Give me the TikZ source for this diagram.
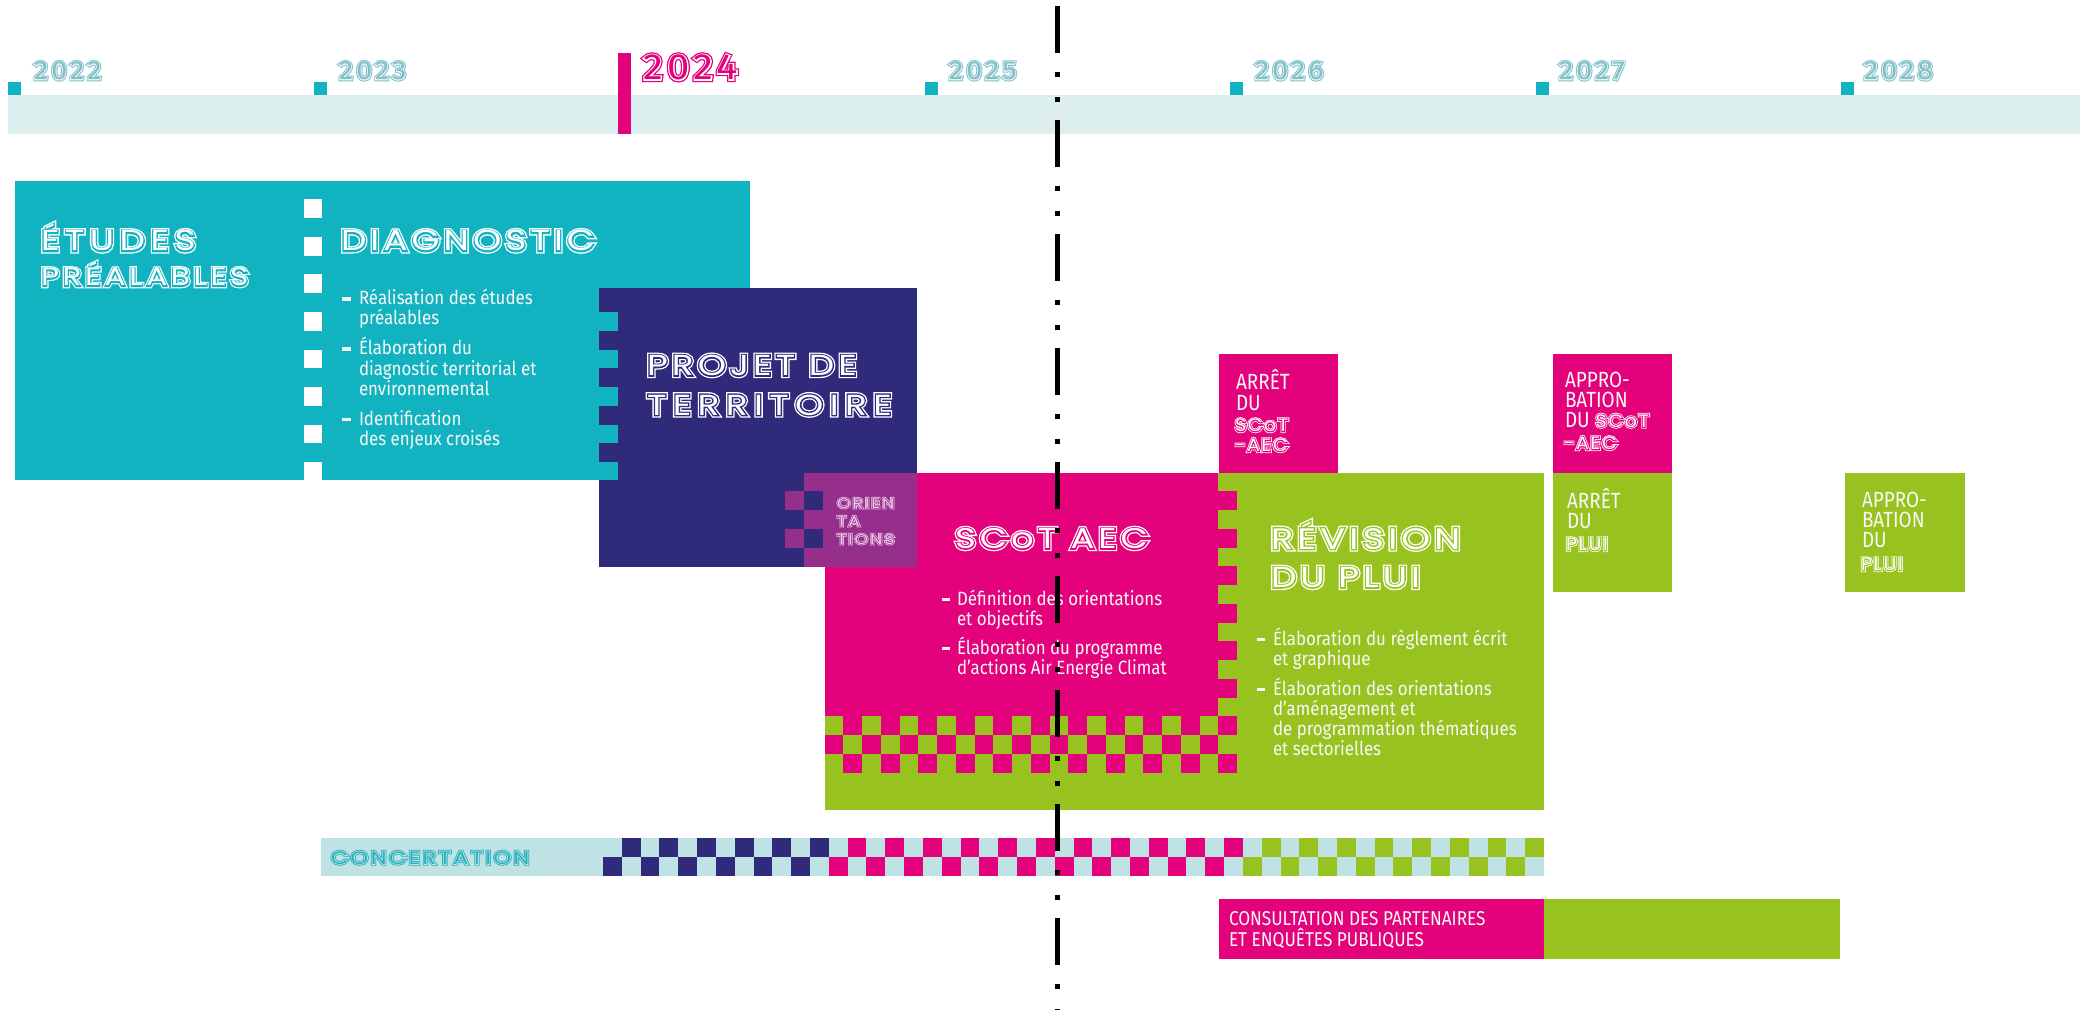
\documentclass[tikz,border=0pt]{standalone}
\usepackage{fontspec}
\setmainfont{Fira Sans}
\newfontfamily\cond{Fira Sans}[FakeStretch=0.88]
\newfontfamily\condb{Fira Sans}[FakeStretch=0.86]
\newfontfamily\dispC{Poppins}[FakeStretch=1.24,LetterSpace=14]
\newfontfamily\dispG{Poppins}[FakeStretch=1.24,LetterSpace=14,FakeBold=9]
\newfontfamily\dispO{Poppins}[FakeStretch=1.24,LetterSpace=14,FakeBold=18]
\newfontfamily\sdispC{Poppins}[FakeStretch=1.06,LetterSpace=9]
\newfontfamily\sdispG{Poppins}[FakeStretch=1.06,LetterSpace=9,FakeBold=9]
\newfontfamily\sdispO{Poppins}[FakeStretch=1.06,LetterSpace=9,FakeBold=18]
\newfontfamily\yrC{Fira Sans}[FakeStretch=1.1,LetterSpace=12]
\newfontfamily\yrG{Fira Sans}[FakeStretch=1.1,LetterSpace=12,FakeBold=7]
\newfontfamily\yrO{Fira Sans}[FakeStretch=1.1,LetterSpace=12,FakeBold=14]
\definecolor{cteal}{HTML}{12B3C1}
\definecolor{cnavy}{HTML}{302A7B}
\definecolor{cpurp}{HTML}{952F8B}
\definecolor{cmag}{HTML}{E3027B}
\definecolor{cgreen}{HTML}{98C21F}
\definecolor{cband}{HTML}{DCEEEE}
\definecolor{cconc}{HTML}{BFE2E4}
\definecolor{cyear}{HTML}{7FC0C8}
\definecolor{cyeargap}{HTML}{E6F3F4}
\definecolor{cconctxt}{HTML}{22B1BD}
\definecolor{corient}{HTML}{EFCDEB}
\definecolor{ctxt}{HTML}{F8F8F8}
% inline (double line) titles: #1 name, #2 position, #3 size, #4 ink, #5 gap colour, #6 text
\newcommand\ttl[6]{%
  \node[lab,text=#4,font=\dispO\fontsize{#3}{#3}\selectfont] (#1o) at #2 {#6};%
  \node[lab,text=#5,font=\dispG\fontsize{#3}{#3}\selectfont] (#1g) at #2 {#6};%
  \node[lab,text=#4,font=\dispC\fontsize{#3}{#3}\selectfont] (#1) at #2 {#6};}
\newcommand\sttl[6]{%
  \node[lab,text=#4,font=\sdispO\fontsize{#3}{#3}\selectfont] (#1o) at #2 {#6};%
  \node[lab,text=#5,font=\sdispG\fontsize{#3}{#3}\selectfont] (#1g) at #2 {#6};%
  \node[lab,text=#4,font=\sdispC\fontsize{#3}{#3}\selectfont] (#1) at #2 {#6};}
\newcommand\yrl[6]{%
  \node[lab,text=#4,font=\yrO\fontsize{#3}{#3}\selectfont] (#1o) at #2 {#6};%
  \node[lab,text=#5,font=\yrG\fontsize{#3}{#3}\selectfont] (#1g) at #2 {#6};%
  \node[lab,text=#4,font=\yrC\fontsize{#3}{#3}\selectfont] (#1) at #2 {#6};}
\begin{document}
\begin{tikzpicture}[x=0.5pt,y=-0.5pt,
  lab/.style={anchor=base west,inner sep=0pt,outer sep=0pt},
  body/.style={lab,text=ctxt,font=\cond\fontsize{9.6pt}{10pt}\selectfont},
  boxtxt/.style={lab,text=ctxt,font=\condb\fontsize{11pt}{11pt}\selectfont},
  constxt/.style={lab,text=ctxt,font=\condb\fontsize{10pt}{10pt}\selectfont},
  bullet/.style={fill=ctxt},
  dashline/.style={line width=2.5pt,dash pattern=on 23.5pt off 9.5pt on 2.5pt off 10pt on 2.5pt off 9pt}]
\useasboundingbox (0,0) rectangle (2080,1010);
\fill[white] (0,0) rectangle (2080,1010);

% ---------- timeline ----------
\fill[cband] (8,95.5) rectangle (2080,134);
\foreach \i in {0,1,3,4,5,6} {\fill[cteal] ({8+305.5*\i},82) rectangle ++(13,13.5);}
\fill[cmag] (618,53) rectangle (631,134);
\yrl{y2022}{(34,79.5)}{13pt}{cyear}{cyeargap}{2022}
\yrl{y2023}{(339,79.5)}{13pt}{cyear}{cyeargap}{2023}
\yrl{y2024}{(643,79.5)}{18.2pt}{cmag}{white}{2024}
\yrl{y2025}{(949,79.5)}{13pt}{cyear}{cyeargap}{2025}
\yrl{y2026}{(1255,79.5)}{13pt}{cyear}{cyeargap}{2026}
\yrl{y2027}{(1559,79.5)}{13pt}{cyear}{cyeargap}{2027}
\yrl{y2028}{(1864,79.5)}{13pt}{cyear}{cyeargap}{2028}

% ---------- études / diagnostic ----------
\fill[cteal] (15,181.5) rectangle (750,479.5);
\foreach \k in {0,...,6} {\fill[white] (303.5,{199.5+37.5*\k}) rectangle ++(18,18.75);}
\fill[white] (303.5,462) rectangle (321.5,479.5);

% ---------- projet de territoire ----------
\fill[cnavy] (599,288) rectangle (917,566.5);
\foreach \k in {0,...,3} {\fill[cteal] (599,{312+37.5*\k}) rectangle ++(19,18.75);}
\fill[cteal] (599,462) rectangle (618,479.5);

% ---------- révision (green) and SCoT (magenta) ----------
\fill[cgreen] (824.5,472.5) rectangle (1544,810);
\fill[cmag] (824.5,472.5) rectangle (1218.25,716.25);
\foreach \rr in {1,3,...,15} {\fill[cmag] (1218.25,{472.5+18.75*\rr}) rectangle ++(18.75,18.75);}
\foreach \rr in {13,14,15} {\foreach \c in {0,...,20} {%
  \pgfmathtruncatemacro\s{mod(\rr+\c,2)}%
  \ifnum\s=0 \fill[cmag] ({824.5+18.75*\c},{472.5+18.75*\rr}) rectangle ++(18.75,18.75);\fi}}

% ---------- orientations ----------
\fill[cpurp] (804,472.5) rectangle (917,566.5);
\fill[cpurp] (785.25,491.25) rectangle ++(18.75,18.75);
\fill[cpurp] (785.25,528.75) rectangle ++(18.75,18.75);
\fill[cnavy] (804,491.25) rectangle ++(18.75,18.75);
\fill[cnavy] (804,528.75) rectangle ++(18.75,18.75);

% ---------- milestone boxes ----------
\fill[cmag] (1219,353.5) rectangle (1338,472.5);
\fill[cmag] (1553,353.5) rectangle (1672,472.5);
\fill[cgreen] (1553,472.5) rectangle (1672,592);
\fill[cgreen] (1845,472.5) rectangle (1965,592);

% ---------- concertation ----------
\fill[cconc] (321,838) rectangle (1544,875.5);
\foreach \j in {0,...,49} {%
  \ifnum\j<12 \colorlet{cc}{cnavy}\else\ifnum\j<34 \colorlet{cc}{cmag}\else\colorlet{cc}{cgreen}\fi\fi
  \ifodd\j \def\yy{838}\else\def\yy{856.75}\fi
  \fill[cc] ({603+18.82*\j},\yy) rectangle ++(18.82,18.75);}

% ---------- consultation ----------
\fill[cmag] (1219,899) rectangle (1544,959);
\fill[cgreen] (1544,899) rectangle (1840,959);

% ---------- titles ----------
\ttl{etudes}{(41,251)}{14.5pt}{white}{cteal}{\addfontfeature{LetterSpace=19}ÉTUDES}
\ttl{prealables}{(41,286)}{12.6pt}{white}{cteal}{PRÉALABLES}
\ttl{diag}{(341,251)}{14.5pt}{white}{cteal}{DIAGNOSTIC}
\ttl{projet}{(647,375.5)}{14.5pt}{white}{cnavy}{PROJET DE}
\ttl{territoire}{(647,415)}{14.5pt}{white}{cnavy}{\addfontfeature{LetterSpace=22}TERRITOIRE}
\ttl{orien}{(837,508)}{7pt}{corient}{cpurp}{ORIEN}
\ttl{ta}{(837,526)}{7pt}{corient}{cpurp}{TA}
\ttl{tions}{(837,544)}{7pt}{corient}{cpurp}{TIONS}
\ttl{scot}{(955,548.5)}{14.3pt}{white}{cmag}{SCoT AEC}
\ttl{revision}{(1271,549)}{14.8pt}{white}{cgreen}{RÉVISION}
\ttl{duplui}{(1271,587.5)}{14.5pt}{white}{cgreen}{DU PLUI}
\ttl{concert}{(331,864)}{9pt}{cconctxt}{cconc}{CONCERTATION}

% ---------- bullet texts ----------
\foreach \yy in {305,355,425} {\fill[bullet] (342,{\yy-7.5}) rectangle ++(9,3.5);}
\foreach \yy/\tx [count=\i] in {305/Réalisation des études, 325/préalables, 355/Élaboration du,
  375/diagnostic territorial et, 395/environnemental, 425/Identification, 445/des enjeux croisés}
  {\node[body,name=dg\i] at (359,\yy) {\tx};}
\foreach \yy in {605,654} {\fill[bullet] (942,{\yy-7.5}) rectangle ++(8,3.5);}
\foreach \yy/\tx [count=\i] in {605/Définition des orientations, 625/et objectifs,
  654/Élaboration du programme, 674/d’actions Air Energie Climat}
  {\node[body,name=sc\i] at (957,\yy) {\tx};}
\foreach \yy in {645,695} {\fill[bullet] (1257,{\yy-7.5}) rectangle ++(8,3.5);}
\foreach \yy/\tx [count=\i] in {645/Élaboration du règlement écrit, 665/et graphique,
  695/Élaboration des orientations, 715/d’aménagement et, 735/de programmation thématiques,
  755/et sectorielles}
  {\node[body,name=rv\i] at (1273,\yy) {\tx};}

% ---------- milestone texts ----------
\node[boxtxt] (as1) at (1236,389) {ARRÊT};
\node[boxtxt] (as2) at (1236,410) {DU};
\sttl{as3}{(1235,431.5)}{9pt}{white}{cmag}{SCoT}
\sttl{as4}{(1235,451.5)}{9pt}{white}{cmag}{-AEC}
\node[boxtxt] (ap1) at (1565,387) {APPRO-};
\node[boxtxt] (ap2) at (1565,407) {BATION};
\node[boxtxt] (ap3) at (1565,427) {DU};
\sttl{ap4}{([xshift=3pt]ap3.base east)}{9pt}{white}{cmag}{SCoT}
\sttl{ap5}{(1564,449.5)}{9pt}{white}{cmag}{-AEC}
\node[boxtxt] (ar1) at (1567,508) {ARRÊT};
\node[boxtxt] (ar2) at (1567,528) {DU};
\sttl{ar3}{(1566,550.5)}{9pt}{white}{cgreen}{PLUI}
\node[boxtxt] (aq1) at (1862,507) {APPRO-};
\node[boxtxt] (aq2) at (1862,527) {BATION};
\node[boxtxt] (aq3) at (1862,547) {DU};
\sttl{aq4}{(1861,570.5)}{9pt}{white}{cgreen}{PLUI}
\node[constxt] (cs1) at (1229,925) {CONSULTATION DES PARTENAIRES};
\node[constxt] (cs2) at (1229,946.5) {ET ENQUÊTES PUBLIQUES};

% ---------- today line ----------
\coordinate (dtop) at (1057,6);
\coordinate (dbot) at (1057,1010);
\draw[dashline] (dtop) -- (dbot);
\end{tikzpicture}
\end{document}
